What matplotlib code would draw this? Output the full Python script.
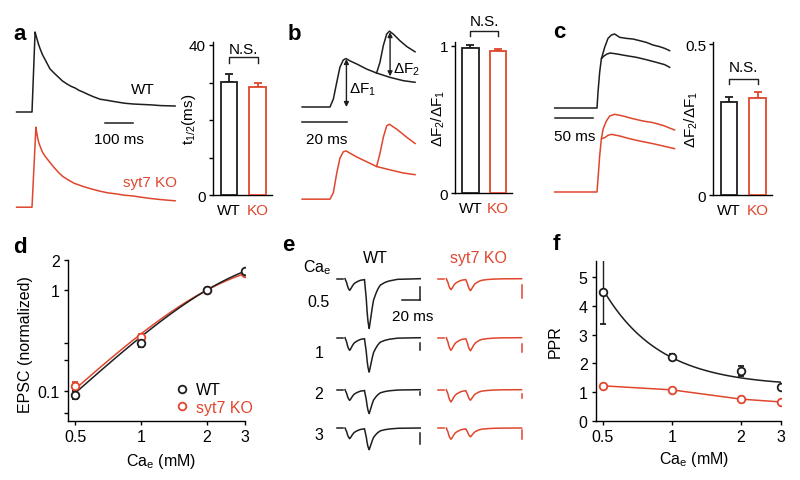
import numpy as np
import matplotlib.pyplot as plt
from matplotlib.lines import Line2D
from matplotlib.ticker import NullFormatter, NullLocator

W, H = 800, 481
BLACK = '#1e1e1e'
RED = '#e0462d'

plt.rcParams['font.family'] = ['Liberation Sans', 'DejaVu Sans']
plt.rcParams['mathtext.fontset'] = 'custom'
plt.rcParams['mathtext.rm'] = 'Liberation Sans'
plt.rcParams['mathtext.it'] = 'Liberation Sans:italic'
plt.rcParams['font.size'] = 11
plt.rcParams['axes.linewidth'] = 1.0
plt.rcParams['xtick.major.width'] = 1.0
plt.rcParams['ytick.major.width'] = 1.0
plt.rcParams['ytick.minor.width'] = 1.0
plt.rcParams['xtick.major.size'] = 3
plt.rcParams['ytick.major.size'] = 3
plt.rcParams['ytick.minor.size'] = 3

# ---------------- data ----------------
groups = ['WT', 'KO']

# a: single Ca transient, normalised to peak (time in ms)
a_t_wt = [-55, 0, 11, 14, 18, 23, 29, 37, 46, 55, 64, 78, 93, 108, 125, 140, 154,
          168, 182, 200, 220, 243, 270, 303, 330, 361, 390, 421, 460, 511]
a_wt = [0, 0, 1.0, 0.96, 0.91, 0.85, 0.79, 0.72, 0.66, 0.60, 0.54, 0.49, 0.44, 0.39,
        0.35, 0.32, 0.30, 0.27, 0.25, 0.22, 0.19, 0.16, 0.145, 0.125, 0.11, 0.10,
        0.095, 0.09, 0.08, 0.075]
a_t_ko = [-55, 0, 14, 17, 20, 24, 29, 37, 46, 55, 64, 78, 93, 108, 125, 150, 182,
          210, 243, 270, 303, 330, 361, 390, 421, 460, 511]
a_ko = [0, 0, 1.0, 0.93, 0.87, 0.81, 0.76, 0.69, 0.64, 0.60, 0.56, 0.50, 0.44, 0.39,
        0.35, 0.30, 0.26, 0.23, 0.20, 0.18, 0.165, 0.15, 0.14, 0.125, 0.11, 0.095, 0.08]
t_half = [30.1, 28.8]
t_half_err = [2.2, 1.1]

# b: paired transients (20 ms), normalised to first peak
b_t_wt = [-12.4, 0, 1.5, 3.0, 4.4, 5.9, 7.1, 8.9, 11.9, 16.3, 20.7,
          22.2, 23.7, 25.2, 26.4, 28.1, 31.1, 34.1, 37.8]
b_wt = [0, 0, 0.167, 0.514, 0.826, 0.979, 1.01, 0.96, 0.896, 0.79, 0.708,
        0.93, 1.28, 1.52, 1.58, 1.52, 1.38, 1.26, 1.15]
b_t_wt_single = [20.7, 26.6, 32.6, 37.8]
b_wt_single = [0.708, 0.618, 0.548, 0.515]
b_t_ko = [-12.4, 0, 1.5, 3.0, 4.4, 5.9, 7.1, 11.8, 16.3, 20.7,
          22.2, 23.7, 25.2, 26.4, 29.6, 34.1, 37.8]
b_ko = [0, 0, 0.136, 0.544, 0.85, 0.986, 1.006, 0.88, 0.78, 0.68,
        0.95, 1.29, 1.53, 1.56, 1.46, 1.29, 1.16]
b_t_ko_single = [20.7, 26.7, 32.6, 37.8]
b_ko_single = [0.68, 0.61, 0.545, 0.51]
ratio_b = [0.986, 0.966]
ratio_b_err = [0.021, 0.014]

# c: two stimulus strengths
c_t_wt = [-55.7, 0, 1.3, 3.5, 5.7, 10.1, 14.5, 18.9, 23.2, 29.8, 38.6,
          47.4, 56.1, 64.9, 73.7, 82.4, 89, 95.6]
c_wt_hi = [0, 0, 0.212, 0.482, 0.662, 0.82, 0.941, 0.986, 1.0, 0.955, 0.941,
           0.932, 0.91, 0.887, 0.851, 0.829, 0.806, 0.775]
c_t_wt_lo = [6.0, 8.8, 13.2, 17.5, 26.3, 38.6, 51.8, 64.9, 78.1, 89, 95.6]
c_wt_lo = [0.67, 0.70, 0.73, 0.743, 0.73, 0.707, 0.685, 0.653, 0.617, 0.586, 0.55]
c_t_ko = [-55.7, 0, 1.3, 3.5, 5.7, 7.9, 12.3, 16.7, 23.2, 34.2, 47.4,
          60.6, 73.7, 86.8, 102]
c_ko_hi = [0, 0, 0.171, 0.486, 0.712, 0.847, 0.959, 1.027, 1.05, 1.027, 0.99,
           0.959, 0.937, 0.90, 0.838]
c_t_ko_lo = [6.0, 10.1, 14.5, 18.9, 29.8, 43, 56.1, 73.7, 86.8, 102]
c_ko_lo = [0.72, 0.734, 0.766, 0.779, 0.757, 0.72, 0.689, 0.653, 0.622, 0.586]
ratio_c = [0.308, 0.321]
ratio_c_err = [0.017, 0.020]

# d: EPSC vs extracellular Ca
ca = [0.5, 1, 2, 3]
epsc_wt = [0.091, 0.30, 1.0, 1.55]
epsc_wt_err = [0.009, 0.03, 0.01, 0.05]
epsc_ko = [0.112, 0.343, 1.0, 1.47]
epsc_ko_err = [0.011, 0.02, 0.01, 0.03]
hill_wt = (2.0, 2.66, 2.77)   # n, K (mM), max
hill_ko = (2.0, 2.33, 2.355)

# e: paired-pulse EPSCs (depth of each response, a.u.)
e_ca = ['0.5', '1', '2', '3']
e_wt_p1 = [11.7, 12.7, 10.7, 10.7]
e_wt_p2 = [49.5, 34, 23.5, 21.3]
e_ko_p1 = [11, 12.7, 12.3, 11.3]
e_ko_p2 = [11.5, 12.5, 10, 8.3]
epsc_shape_t = [0, 1.9, 2.6, 3.8, 5.3, 6.8, 8.3, 10.2, 12.1, 14.7, 17.7, 22.2, 27.1, 36.6, 63, 90]
epsc_shape = [0, 0.35, 0.57, 0.83, 1.0, 0.83, 0.63, 0.43, 0.33, 0.22, 0.13, 0.08, 0.047, 0.013, 0, 0]
isi = 22

# f: paired-pulse ratio
ppr_wt = [4.48, 2.22, 1.74, 1.18]
ppr_wt_err = [1.13, 0.12, 0.18, 0.08]
ppr_ko = [1.22, 1.08, 0.76, 0.66]
ppr_ko_err = [0.06, 0.04, 0.03, 0.03]
ppr_fit = (1.2, 1.0, 1.75)   # y0 + A * Ca^-p

# ---------------- helpers ----------------
fig = plt.figure(figsize=(8, 4.81), dpi=100)


def px_box(x0, y0, x1, y1):
    return [x0 / W, 1 - y1 / H, (x1 - x0) / W, (y1 - y0) / H]


def trace_axes(box, origin, sx, sy):
    x0, y0, x1, y1 = box
    ox, oy = origin
    ax = fig.add_axes(px_box(*box))
    ax.set_xlim((x0 - ox) * sx, (x1 - ox) * sx)
    ax.set_ylim((oy - y1) * sy, (oy - y0) * sy)
    ax.axis('off')
    return ax


def bar_panel(box, vals, errs, ymax, yticks, ylabels, ylabel, lab_x, ns):
    ax = fig.add_axes(px_box(*box))
    x = np.arange(len(vals))
    cols = [BLACK, RED]
    ax.bar(x, vals, width=0.58, color='white', edgecolor=cols, linewidth=1.3, zorder=3)
    for i in x:
        ax.errorbar(x[i], vals[i], yerr=[[0], [errs[i]]], fmt='none', ecolor=cols[i],
                    elinewidth=1.3, capsize=3, capthick=1.3, zorder=2)
    ax.set_xlim(-0.56, 1.5)
    ax.set_ylim(0, ymax)
    ax.spines[['top', 'right']].set_visible(False)
    ax.set_yticks(yticks, ylabels)
    ax.set_xticks(x, groups)
    ax.get_xticklabels()[1].set_color(RED)
    ax.tick_params(axis='x', length=0, pad=6)
    ax.tick_params(axis='y', direction='out', pad=2)
    ax.set_ylabel(ylabel)
    ax.yaxis.set_label_coords(lab_x, 0.5)
    top, leg, ty = ns
    ax.plot([0, 0, 1, 1], [leg, top, top, leg], color=BLACK, lw=1, clip_on=False)
    ax.text(0.5, ty, 'N.S.', ha='center', va='center')
    return ax


def ftext(x, y, s, **kw):
    fig.text(x / W, 1 - y / H, s, **kw)


# ---------------- panel a ----------------
ax = trace_axes((8, 25, 182, 215), (32, 113), 100 / 28, 1 / 80)
ax.plot(a_t_wt, a_wt, color=BLACK, lw=1.1)
ax.plot(a_t_ko, np.array(a_ko) - 1.19, color=RED, lw=1.1)
ax.plot([260, 360], [-0.14, -0.14], color=BLACK, lw=1.1)
ax.text(310, -0.34, '100 ms', ha='center', va='center')
ax.text(396, 0.29, 'WT', ha='center', va='center')
ax.text(421, -0.875, 'syt7 KO', ha='center', va='center', color=RED)

bar_panel((213, 43, 272, 196), t_half, t_half_err, 40.8, [0, 10, 20, 30, 40],
          ['0', '', '', '', '40'], r'$\mathregular{t_{1/2}}$(ms)', -0.25, (36.8, 35.3, 39.0))

# ---------------- panel b ----------------
ax = trace_axes((298, 20, 422, 215), (330, 108), 20 / 45, 1 / 48)
ax.plot(b_t_wt, b_wt, color=BLACK, lw=1.1)
ax.plot(b_t_wt_single, b_wt_single, color=BLACK, lw=1.1)
ax.plot(b_t_ko, np.array(b_ko) - 1.92, color=RED, lw=1.1)
ax.plot(b_t_ko_single, np.array(b_ko_single) - 1.92, color=RED, lw=1.1)
ax.plot([-12.4, 7.6], [-0.31, -0.31], color=BLACK, lw=1.1)
ax.text(-1.3, -0.66, '20 ms', ha='center', va='center')
arrow = dict(arrowstyle='<|-|>', color=BLACK, lw=1.0, mutation_scale=7, shrinkA=0, shrinkB=0)
ax.annotate('', xy=(7.3, 1.0), xytext=(7.3, 0.0), arrowprops=arrow)
ax.annotate('', xy=(26.7, 1.56), xytext=(26.7, 0.64), arrowprops=arrow)
ax.text(8.6, 0.37, r'ΔF$_1$', ha='left', va='center')
ax.text(28.2, 0.80, r'ΔF$_2$', ha='left', va='center')

bar_panel((455, 43, 512, 194), ratio_b, ratio_b_err, 1.027, [0, 1], ['0', '1'],
          r'ΔF$_2$/ΔF$_1$', -0.14, (1.10, 1.065, 1.17))

# ---------------- panel c ----------------
ax = trace_axes((550, 20, 680, 215), (597, 109), 50 / 38, 1 / 74)
ax.plot(c_t_wt, c_wt_hi, color=BLACK, lw=1.1)
ax.plot(c_t_wt_lo, c_wt_lo, color=BLACK, lw=1.1)
ax.plot(c_t_ko, np.array(c_ko_hi) - 1.135, color=RED, lw=1.1)
ax.plot(c_t_ko_lo, np.array(c_ko_lo) - 1.135, color=RED, lw=1.1)
ax.plot([-55.3, -5.3], [-0.135, -0.135], color=BLACK, lw=1.1)
ax.text(-29, -0.38, '50 ms', ha='center', va='center')

bar_panel((713, 43, 772, 196), ratio_c, ratio_c_err, 0.507, [0, 0.5], ['0', '0.5'],
          r'ΔF$_2$/ΔF$_1$', -0.22, (0.384, 0.368, 0.424))

# ---------------- panel d ----------------
ax = fig.add_axes(px_box(68, 261, 245, 422))
xs = np.geomspace(0.5, 3, 120)
for vals, errs, (n, k, top), col in [(epsc_ko, epsc_ko_err, hill_ko, RED),
                                     (epsc_wt, epsc_wt_err, hill_wt, BLACK)]:
    ax.plot(xs, top * xs ** n / (xs ** n + k ** n), color=col, lw=1.1, zorder=2)
    ax.errorbar(ca, vals, yerr=errs, fmt='o', ms=5.5, mfc='white', mec=col, mew=1.3,
                ecolor=col, elinewidth=1.0, capsize=2.5, capthick=1.0, zorder=3)
ax.set_xscale('log')
ax.set_yscale('log')
ax.set_xlim(0.464, 3)
ax.set_ylim(0.05, 2)
ax.spines[['top', 'right']].set_visible(False)
ax.set_xticks(ca, ['0.5', '1', '2', '3'])
ax.xaxis.set_minor_locator(NullLocator())
ax.set_yticks([0.1, 1, 2], ['0.1', '1', '2'])
ax.set_yticks([0.06, 0.2, 0.3], minor=True)
ax.yaxis.set_minor_formatter(NullFormatter())
ax.tick_params(labelsize=11.5, direction='out', pad=3)
ax.tick_params(axis='y', which='both', direction='out')
ax.set_ylabel('EPSC (normalized)', fontsize=11.5)
ax.yaxis.set_label_coords(-0.20, 0.48)
ax.set_xlabel(r'Ca$_\mathregular{e}$ (mM)', fontsize=11.5)
ax.xaxis.set_label_coords(0.525, -0.186)
handles = [Line2D([], [], ls='none', marker='o', ms=5.5, mfc='white', mec=c, mew=1.3)
           for c in (BLACK, RED)]
leg = ax.legend(handles, ['WT', 'syt7 KO'], loc='lower left', bbox_to_anchor=(0.6, 0.04),
                frameon=False, borderpad=0, borderaxespad=0, handlelength=1.0,
                handletextpad=0.35, labelspacing=0.15, fontsize=11.5)
leg.get_texts()[1].set_color(RED)

# ---------------- panel e ----------------
row_off = [0, -59, -111, -149.3]
wt_bar = [(-8.3, 13.3), (-5.3, 6.7), (-2.3, 3.3), (-4.7, 11)]
ko_bar = [(-6.7, 12.3), (-6.0, 8.3), (-4.0, 4.0), (-2.3, 8.3)]


def epsc_rows(ax, p1s, p2s, col, bars, bar_t):
    t = np.arange(0, 85.25, 0.25)
    for p1, p2, off, (btop, blen) in zip(p1s, p2s, row_off, bars):
        r1 = -p1 * np.interp(t, epsc_shape_t, epsc_shape)
        r2 = -p2 * np.interp(t - isi, epsc_shape_t, epsc_shape, left=0)
        y = r1 + np.where(t >= isi, r2, 0)
        first = t <= isi - 1.0
        second = t >= isi
        ax.plot([-9, -2.5], [off, off], color=col, lw=1.1)
        ax.plot(t[first], y[first] + off, color=col, lw=1.1)
        ax.plot(t[second], y[second] + off, color=col, lw=1.1)
        ax.plot([bar_t, bar_t], [off + btop, off + btop - blen], color=col, lw=1.1)


ax = trace_axes((330, 265, 428, 462), (345, 279.7), 20 / 17.7, 1)
epsc_rows(ax, e_wt_p1, e_wt_p2, BLACK, wt_bar, 84.8)
ax.plot([64.8, 84.8], [-21.6, -21.6], color=BLACK, lw=1.1)
ax.text(76.8, -37.5, '20 ms', ha='center', va='center', fontsize=11)

ax = trace_axes((432, 265, 530, 462), (446.3, 279.7), 20 / 17.7, 1)
epsc_rows(ax, e_ko_p1, e_ko_p2, RED, ko_bar, 85.9)

ftext(375, 259, 'WT', ha='center', va='center', fontsize=11.5)
ftext(478, 259, 'syt7 KO', ha='center', va='center', fontsize=11.5, color=RED)
ftext(317, 268, r'Ca$_\mathregular{e}$', ha='center', va='center', fontsize=11.5)
for lab, y in zip(e_ca, [303, 354, 395, 436]):
    ftext(319, y, lab, ha='center', va='center', fontsize=11.5)

# ---------------- panel f ----------------
ax = fig.add_axes(px_box(596, 262, 781, 422))
y0, amp, p = ppr_fit
ax.plot(xs, y0 + amp * xs ** -p, color=BLACK, lw=1.1, zorder=2)
ax.plot(ca, ppr_ko, color=RED, lw=1.1, zorder=2)
for vals, errs, col in [(ppr_wt, ppr_wt_err, BLACK), (ppr_ko, ppr_ko_err, RED)]:
    ax.errorbar(ca, vals, yerr=errs, fmt='o', ms=5.5, mfc='white', mec=col, mew=1.3,
                ecolor=col, elinewidth=1.0, capsize=2.5, capthick=1.0, zorder=3)
ax.set_xscale('log')
ax.set_xlim(0.466, 3)
ax.set_ylim(0, 5.55)
ax.spines[['top', 'right']].set_visible(False)
ax.set_xticks(ca, ['0.5', '1', '2', '3'])
ax.xaxis.set_minor_locator(NullLocator())
ax.set_yticks(range(6))
ax.tick_params(labelsize=11.5, direction='out', pad=3)
ax.set_ylabel('PPR', fontsize=11.5)
ax.yaxis.set_label_coords(-0.18, 0.5)
ax.set_xlabel(r'Ca$_\mathregular{e}$ (mM)', fontsize=11.5)
ax.xaxis.set_label_coords(0.53, -0.175)

# ---------------- panel letters ----------------
for lab, x, y in [('a', 13, 40), ('b', 288, 40), ('c', 553, 38),
                  ('d', 13, 253), ('e', 282, 251), ('f', 553, 250)]:
    ftext(x, y, lab, fontsize=16, fontweight='bold', ha='left', va='baseline')

fig.savefig('out.png', dpi=100)
